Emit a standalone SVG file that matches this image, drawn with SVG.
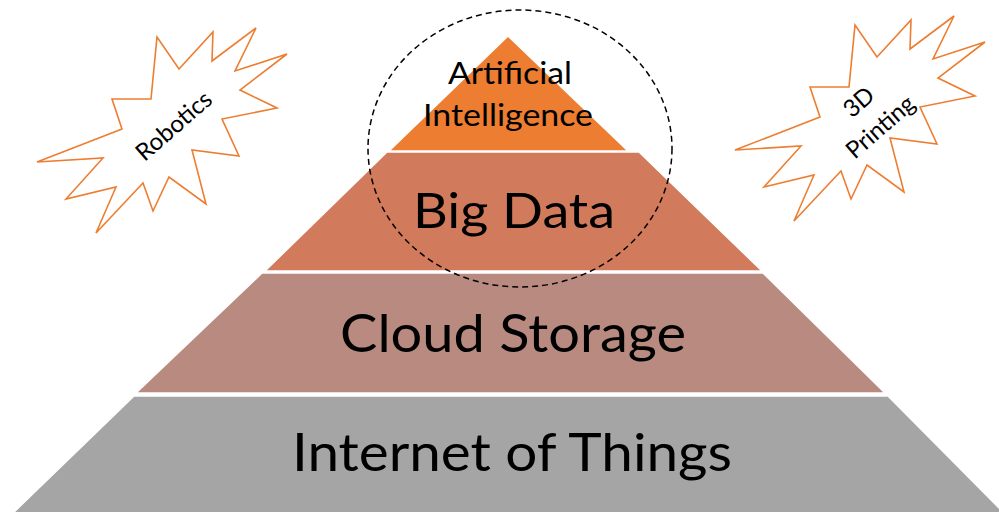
<svg xmlns="http://www.w3.org/2000/svg" width="999" height="512" viewBox="0 0 999 512">
<style>
.tier{stroke:#ffffff;stroke-width:1.5}
.lbl{font-family:Lato,"Open Sans","Liberation Sans",sans-serif;fill:#000;text-anchor:middle}
.star{fill:#ffffff;stroke:#ED7D31;stroke-width:1.6;stroke-linejoin:miter}
.ring{fill:none;stroke:#000;stroke-width:1.5;stroke-dasharray:6 4}
</style>
<rect width="999" height="512" fill="#ffffff"/>
<g id="tier-iot">
<polygon class="tier" points="134,396 888,396 1005,514 12,514" fill="#A5A5A5"/>
<text class="lbl" x="512" y="471" font-size="53" textLength="440" lengthAdjust="spacingAndGlyphs">Internet of Things</text>
</g>
<g id="tier-cloud">
<polygon class="tier" points="262,273 763,273 885,393 136,393" fill="#B98A80"/>
<text class="lbl" x="513" y="352" font-size="52" textLength="346" lengthAdjust="spacingAndGlyphs">Cloud Storage</text>
</g>
<g id="tier-bigdata">
<polygon class="tier" points="387,152 639,152 762,271 265,271" fill="#D17A5C"/>
<text class="lbl" x="514" y="228" font-size="49" textLength="202" lengthAdjust="spacingAndGlyphs">Big Data</text>
</g>
<g id="tier-ai">
<polygon class="tier" points="508,36 628,151 389,151" fill="#ED7D31"/>
<text class="lbl" x="510" y="84" font-size="31" textLength="124" lengthAdjust="spacingAndGlyphs">Artificial</text>
<text class="lbl" x="508" y="126" font-size="31" textLength="170" lengthAdjust="spacingAndGlyphs">Intelligence</text>
</g>
<g id="robotics">
<polygon class="star" points="37,162 103,158 66,199 116,187 96,233 143,183 153,211 169,177 206,204 192,150 239,156 222,119 277,108 240,90 287,54 235,71 256,28 212,61 213,32 179,69 157,37 151,99 112,99 122,129"/>
<text class="lbl" transform="translate(174,126) rotate(-41)" y="8" font-size="24" textLength="92" lengthAdjust="spacingAndGlyphs">Robotics</text>
</g>
<g id="printing3d">
<polygon class="star" transform="translate(698,-12)" points="37,162 103,158 66,199 116,187 96,233 143,183 153,211 169,177 206,204 192,150 239,156 222,119 277,108 240,90 287,54 235,71 256,28 212,61 213,32 179,69 157,37 151,99 112,99 122,129"/>
<g transform="translate(870,115) rotate(-41)">
<text class="lbl" x="0" y="-9" font-size="24">3D</text>
<text class="lbl" x="0" y="24" font-size="24" textLength="82" lengthAdjust="spacingAndGlyphs">Printing</text>
</g>
</g>
<g id="connectors">
<ellipse id="focus-ring" class="ring" cx="520" cy="148.5" rx="152" ry="138.5"/>
</g>
</svg>
